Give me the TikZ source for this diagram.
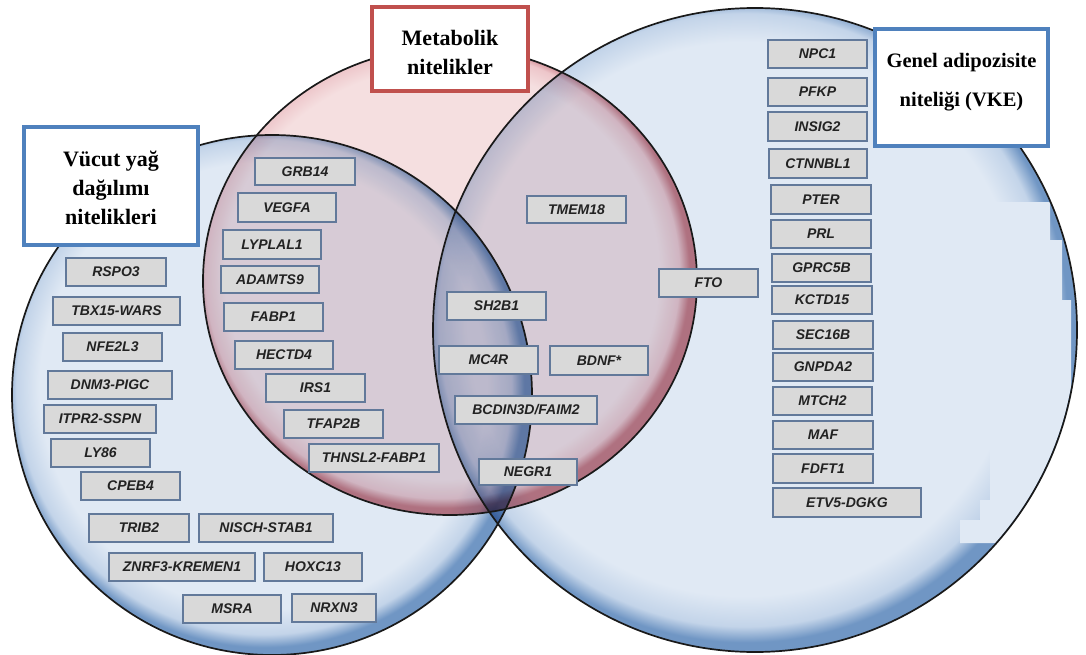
\documentclass[tikz,border=0pt]{standalone}
\usepackage{fontspec}
\setmainfont{Liberation Serif}
\newfontfamily\genefont{Liberation Sans}
\definecolor{bin}{HTML}{E0E9F4}
\definecolor{bmid}{HTML}{C3D4E9}
\definecolor{bedge}{HTML}{7096C4}
\definecolor{rin}{HTML}{F5DFE0}
\definecolor{rmid}{HTML}{EDC6CA}
\definecolor{redge}{HTML}{C87C86}
\definecolor{tred}{HTML}{C0504D}
\definecolor{tblue}{HTML}{4F81BD}
\definecolor{genef}{HTML}{D9D9D9}
\definecolor{geneb}{HTML}{62799A}
\definecolor{genet}{HTML}{222222}
\pgfdeclareradialshading{blueball}{\pgfpoint{-1.5bp}{1.5bp}}{color(0bp)=(bin); color(21.5bp)=(bin); color(23.8bp)=(bmid); color(25bp)=(bedge); color(50bp)=(bedge)}
\pgfdeclareradialshading{redball}{\pgfpoint{-1.5bp}{1.5bp}}{color(0bp)=(rin); color(22bp)=(rin); color(24bp)=(rmid); color(25bp)=(redge); color(50bp)=(redge)}
\tikzset{
 gene/.style={draw=geneb, line width=1.3pt, fill=genef, inner sep=0pt, text=genet,
   font=\genefont\bfseries\itshape\fontsize{14}{16}\selectfont},
 tbox/.style={fill=white, line width=4.5pt, inner sep=0pt},
 ttext/.style={align=center, inner sep=0pt, font=\bfseries\fontsize{22}{29}\selectfont},
 gtext/.style={align=center, inner sep=0pt, font=\bfseries\fontsize{20.5}{39}\selectfont},
 outl/.style={line width=1.7pt, draw=black!90},
 patch/.style={fill=bin}
}
\newcommand\gbox[6]{\node[gene,minimum width={#4pt-#2pt},minimum height={#5pt-#3pt}] (#1) at ({(#2+#4)/2},{(#3+#5)/2}) {#6};}
\newcommand\rimpatch{(990,202) -- (1050,202) -- (1050,240) -- (1062,240) -- (1062,300)
  -- (1071,300) -- (1071,410) -- (1068,410) -- (1068,440) -- (1062,440)
  -- (1062,463) -- (1052,463) -- (1052,483) -- (1042,483) -- (1042,500)
  -- (1032,500) -- (1032,520) -- (1020,520) -- (1020,543) -- (960,543)
  -- (960,520) -- (980,520) -- (980,500) -- (990,500) -- cycle}
\begin{document}
\begin{tikzpicture}[x=1pt,y=-1pt]
\useasboundingbox (0,0) rectangle (1086,655);
\fill[white] (0,0) rectangle (1086,655);
\coordinate (cL) at (272,395);
\coordinate (cM) at (450,281);
\coordinate (cR) at (755,330);
\begin{scope}[blend mode=multiply]
\shade[shading=blueball] (cL) circle[radius=260];
\shade[shading=blueball] (cR) circle[radius=322];
\shade[shading=redball] (cM) ellipse[x radius=247, y radius=234];
\end{scope}
\begin{scope}
\clip (cR) circle[radius=321];
\fill[patch] \rimpatch;
\end{scope}
\draw[outl] (cL) circle[radius=260];
\draw[outl] (cR) circle[radius=322];
\draw[outl] (cM) ellipse[x radius=247, y radius=234];
% title boxes
\node[tbox, draw=tred, minimum width=156pt, minimum height=84pt] (metB) at (450,49) {};
\node[ttext] (metT) at (450,52.2) {Metabolik\\nitelikler};
\node[tbox, draw=tblue, minimum width=174pt, minimum height=118pt] (vucB) at (111,186) {};
\node[ttext] (vucT) at (111,187.4) {Vücut yağ\\dağılımı\\nitelikleri};
\node[tbox, draw=tblue, minimum width=173pt, minimum height=117pt] (genB) at (961.5,87.5) {};
\node[gtext] (genT) at (961.5,82.4) {Genel adipozisite\\niteliği (VKE)};
% metabolic and body-fat overlap
\gbox{grb}{255}{158}{355}{185}{GRB14}
\gbox{vegfa}{238}{193}{336}{222}{VEGFA}
\gbox{lyplal}{223}{230}{321}{259}{LYPLAL1}
\gbox{adamts}{221}{266}{319}{293}{ADAMTS9}
\gbox{fabp}{224}{303}{323}{331}{FABP1}
\gbox{hectd}{235}{341}{333}{369}{HECTD4}
\gbox{irs}{266}{374}{365}{402}{IRS1}
\gbox{tfap}{284}{410}{383}{438}{TFAP2B}
\gbox{thnsl}{309}{444}{439}{472}{THNSL2-FABP1}
% body fat distribution
\gbox{rspo}{66}{258}{166}{286}{RSPO3}
\gbox{tbx}{53}{297}{180}{325}{TBX15-WARS}
\gbox{nfe}{63}{333}{162}{361}{NFE2L3}
\gbox{dnm}{48}{371}{172}{399}{DNM3-PIGC}
\gbox{itpr}{44}{405}{156}{433}{ITPR2-SSPN}
\gbox{lysix}{51}{439}{150}{467}{LY86}
\gbox{cpeb}{81}{472}{180}{500}{CPEB4}
\gbox{trib}{89}{514}{189}{542}{TRIB2}
\gbox{nisch}{199}{514}{333}{542}{NISCH-STAB1}
\gbox{znrf}{109}{553}{255}{581}{ZNRF3-KREMEN1}
\gbox{hoxc}{264}{553}{362}{581}{HOXC13}
\gbox{msra}{183}{595}{281}{623}{MSRA}
\gbox{nrxn}{292}{594}{376}{622}{NRXN3}
% centre
\gbox{sh}{447}{292}{546}{320}{SH2B1}
\gbox{tmem}{527}{196}{626}{223}{TMEM18}
\gbox{fto}{659}{269}{758}{297}{FTO}
\gbox{mc}{439}{346}{538}{374}{MC4R}
\gbox{bdnf}{550}{346}{648}{375}{BDNF*}
\gbox{bcd}{455}{396}{597}{424}{BCDIN3D/FAIM2}
\gbox{negr}{479}{459}{577}{485}{NEGR1}
% general adiposity
\gbox{npc}{768}{40}{867}{68}{NPC1}
\gbox{pfkp}{768}{78}{867}{106}{PFKP}
\gbox{insig}{768}{112}{867}{141}{INSIG2}
\gbox{ctn}{769}{149}{867}{178}{CTNNBL1}
\gbox{pter}{771}{185}{871}{214}{PTER}
\gbox{prl}{771}{220}{871}{248}{PRL}
\gbox{gprc}{772}{254}{871}{282}{GPRC5B}
\gbox{kctd}{772}{286}{872}{314}{KCTD15}
\gbox{sec}{773}{321}{873}{349}{SEC16B}
\gbox{gnp}{773}{353}{873}{381}{GNPDA2}
\gbox{mtch}{773}{387}{872}{415}{MTCH2}
\gbox{maf}{773}{421}{873}{449}{MAF}
\gbox{fdft}{773}{454}{873}{483}{FDFT1}
\gbox{etv}{773}{488}{921}{517}{ETV5-DGKG}
\end{tikzpicture}
\end{document}
